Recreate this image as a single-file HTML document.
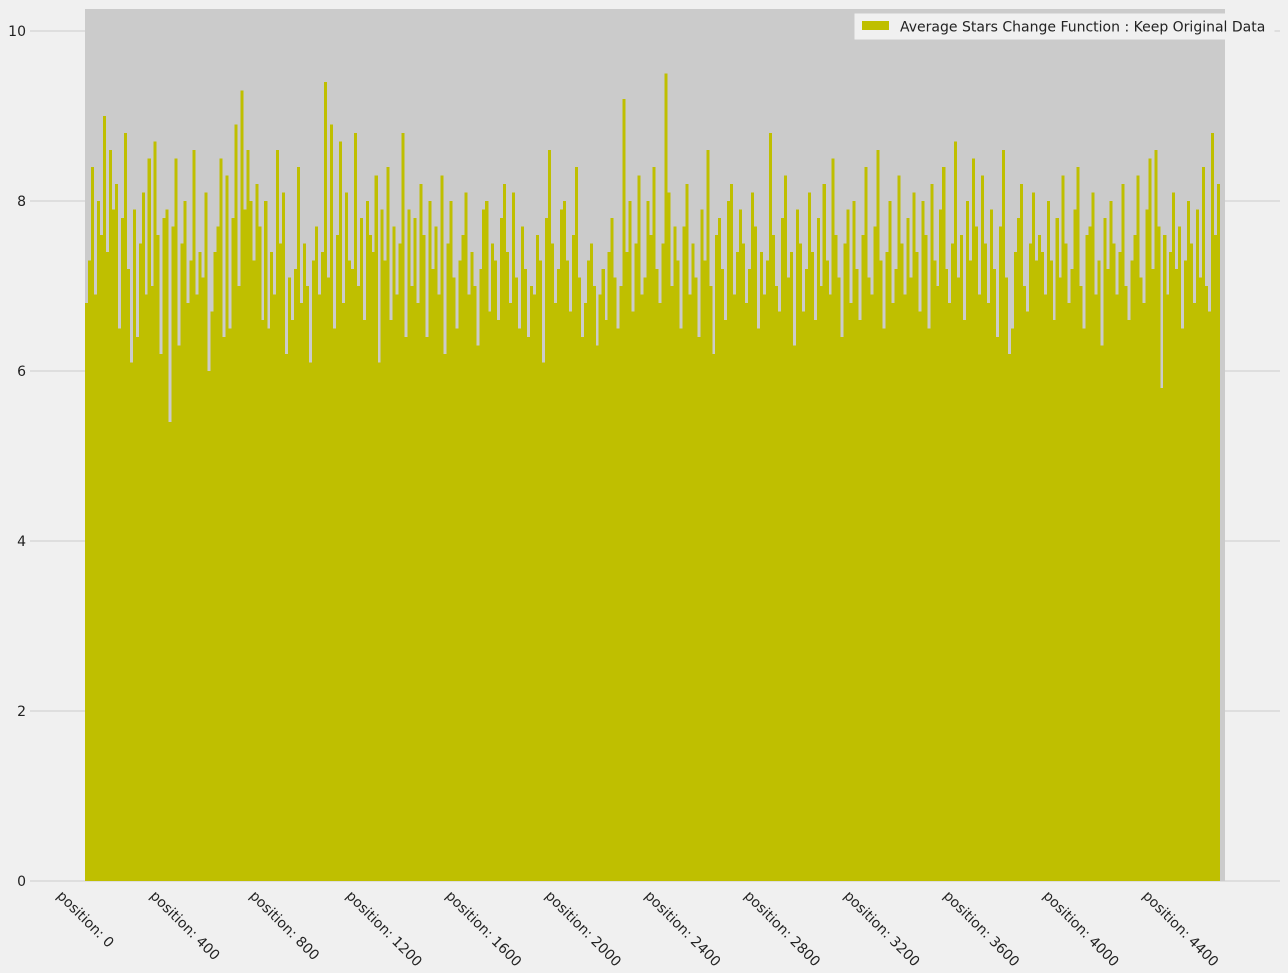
<!DOCTYPE html>
<html><head><meta charset="utf-8">
<style>
html,body{margin:0;padding:0;background:#f0f0f0;}
svg{display:block;font-family:"DejaVu Sans","Liberation Sans",sans-serif;}
</style></head>
<body>
<svg id="chart" width="1288" height="973" viewBox="0 0 1288 973" xmlns="http://www.w3.org/2000/svg">
  <rect x="0" y="0" width="1288" height="973" fill="#f0f0f0"/>
  <g id="grid"></g>
  <rect x="85" y="9" width="1140" height="872" fill="#cbcbcb"/>
  <g id="bars"></g>
  <g id="yticks"></g>
  <g id="xticks"></g>
  <g>
    <rect x="855" y="14" width="419" height="25" fill="#f0f0f0" stroke="#f0f0f0"/>
    <rect x="862" y="21" width="27" height="9" fill="#bfbf00"/>
    <text x="900" y="31.5" font-size="14" fill="#222">Average Stars Change Function : Keep Original Data</text>
  </g>
</svg>
<script>
const positions = [];
const stepPos = 12;
const values = [
6.8,7.3,8.4,6.9,8.0,7.6,9.0,7.4,8.6,7.9,8.2,6.5,7.8,8.8,7.2,6.1,7.9,6.4,7.5,8.1,
6.9,8.5,7.0,8.7,7.6,6.2,7.8,7.9,5.4,7.7,8.5,6.3,7.5,8.0,6.8,7.3,8.6,6.9,7.4,7.1,
8.1,6.0,6.7,7.4,7.7,8.5,6.4,8.3,6.5,7.8,8.9,7.0,9.3,7.9,8.6,8.0,7.3,8.2,7.7,6.6,
8.0,6.5,7.4,6.9,8.6,7.5,8.1,6.2,7.1,6.6,7.2,8.4,6.8,7.5,7.0,6.1,7.3,7.7,6.9,7.4,
9.4,7.1,8.9,6.5,7.6,8.7,6.8,8.1,7.3,7.2,8.8,7.0,7.8,6.6,8.0,7.6,7.4,8.3,6.1,7.9,
7.3,8.4,6.6,7.7,6.9,7.5,8.8,6.4,7.9,7.0,7.8,6.8,8.2,7.6,6.4,8.0,7.2,7.7,6.9,8.3,
6.2,7.5,8.0,7.1,6.5,7.3,7.6,8.1,6.9,7.4,7.0,6.3,7.2,7.9,8.0,6.7,7.5,7.3,6.6,7.8,
8.2,7.4,6.8,8.1,7.1,6.5,7.7,7.2,6.4,7.0,6.9,7.6,7.3,6.1,7.8,8.6,7.5,6.8,7.2,7.9,
8.0,7.3,6.7,7.6,8.4,7.1,6.4,6.8,7.3,7.5,7.0,6.3,6.9,7.2,6.6,7.4,7.8,7.1,6.5,7.0,
9.2,7.4,8.0,6.7,7.5,8.3,6.9,7.1,8.0,7.6,8.4,7.2,6.8,7.5,9.5,8.1,7.0,7.7,7.3,6.5,
7.7,8.2,6.9,7.5,7.1,6.4,7.9,7.3,8.6,7.0,6.2,7.6,7.8,7.2,6.6,8.0,8.2,6.9,7.4,7.9,
7.5,6.8,7.2,8.1,7.7,6.5,7.4,6.9,7.3,8.8,7.6,7.0,6.7,7.8,8.3,7.1,7.4,6.3,7.9,7.5,
6.7,7.2,8.1,7.4,6.6,7.8,7.0,8.2,7.3,6.9,8.5,7.6,7.1,6.4,7.5,7.9,6.8,8.0,7.2,6.6,
7.6,8.4,7.1,6.9,7.7,8.6,7.3,6.5,7.4,8.0,6.8,7.2,8.3,7.5,6.9,7.8,7.1,8.1,7.4,6.7,
8.0,7.6,6.5,8.2,7.3,7.0,7.9,8.4,7.2,6.8,7.5,8.7,7.1,7.6,6.6,8.0,7.3,8.5,7.7,6.9,
8.3,7.5,6.8,7.9,7.2,6.4,7.7,8.6,7.1,6.2,6.5,7.4,7.8,8.2,7.0,6.7,7.5,8.1,7.3,7.6,
7.4,6.9,8.0,7.3,6.6,7.8,7.1,8.3,7.5,6.8,7.2,7.9,8.4,7.0,6.5,7.6,7.7,8.1,6.9,7.3,
6.3,7.8,7.2,8.0,7.5,6.9,7.4,8.2,7.0,6.6,7.3,7.6,8.3,7.1,6.8,7.9,8.5,7.2,8.6,7.7,
5.8,7.6,6.9,7.4,8.1,7.2,7.7,6.5,7.3,8.0,7.5,6.8,7.9,7.1,8.4,7.0,6.7,8.8,7.6,8.2
];
for (let i = 0; i < values.length; i++) positions.push(i * stepPos);
const yTickValues = [0, 2, 4, 6, 8, 10];
const xTickPositions = [0, 400, 800, 1200, 1600, 2000, 2400, 2800, 3200, 3600, 4000, 4400];

const NS = "http://www.w3.org/2000/svg";
const X0 = 85, PXPERPOS = 0.2489;
const Y0 = 881, PXPERUNIT = 85;
function xScale(p){ return X0 + p * PXPERPOS; }
function yScale(v){ return Y0 - v * PXPERUNIT; }

const grid = document.getElementById('grid');
const yt = document.getElementById('yticks');
yTickValues.forEach(v => {
  const l = document.createElementNS(NS, 'line');
  
  
  l.setAttribute('x1', 30); l.setAttribute('x2', 1280);
  l.setAttribute('y1', yScale(v)); l.setAttribute('y2', yScale(v));
  l.setAttribute('stroke', '#cbcbcb'); l.setAttribute('stroke-width', 1);
  grid.appendChild(l);
  const t = document.createElementNS(NS, 'text');
  
  
  t.setAttribute('x', 26); t.setAttribute('y', yScale(v) + 5);
  t.setAttribute('text-anchor', 'end'); t.setAttribute('font-size', '14');
  t.setAttribute('fill', '#222');
  t.textContent = v;
  yt.appendChild(t);
});

const bars = document.getElementById('bars');
const bw = stepPos * PXPERPOS;
values.forEach((v, i) => {
  const r = document.createElementNS(NS, 'rect');
  
  
  const x = xScale(positions[i]);
  r.setAttribute('x', x.toFixed(2));
  r.setAttribute('width', (bw + 0.05).toFixed(2));
  r.setAttribute('y', yScale(v).toFixed(2));
  r.setAttribute('height', (Y0 - yScale(v)).toFixed(2));
  r.setAttribute('fill', '#bfbf00');
  r.setAttribute('shape-rendering', 'crispEdges');
  bars.appendChild(r);
});

const xt = document.getElementById('xticks');
xTickPositions.forEach(p => {
  const t = document.createElementNS(NS, 'text');
  
  
  t.setAttribute('font-size', '14');
  t.setAttribute('fill', '#222');
  t.setAttribute('text-anchor', 'middle');
  t.setAttribute('dominant-baseline', 'central');
  t.textContent = 'position: ' + p;
  xt.appendChild(t);
  const w = t.getComputedTextLength();
  const cx = xScale(p);
  const cy = 888 + (w + 16) * 0.7071 / 2;
  t.setAttribute('x', cx); t.setAttribute('y', cy);
  t.setAttribute('transform', 'rotate(45 ' + cx + ' ' + cy + ')');
});
</script>
</body></html>
